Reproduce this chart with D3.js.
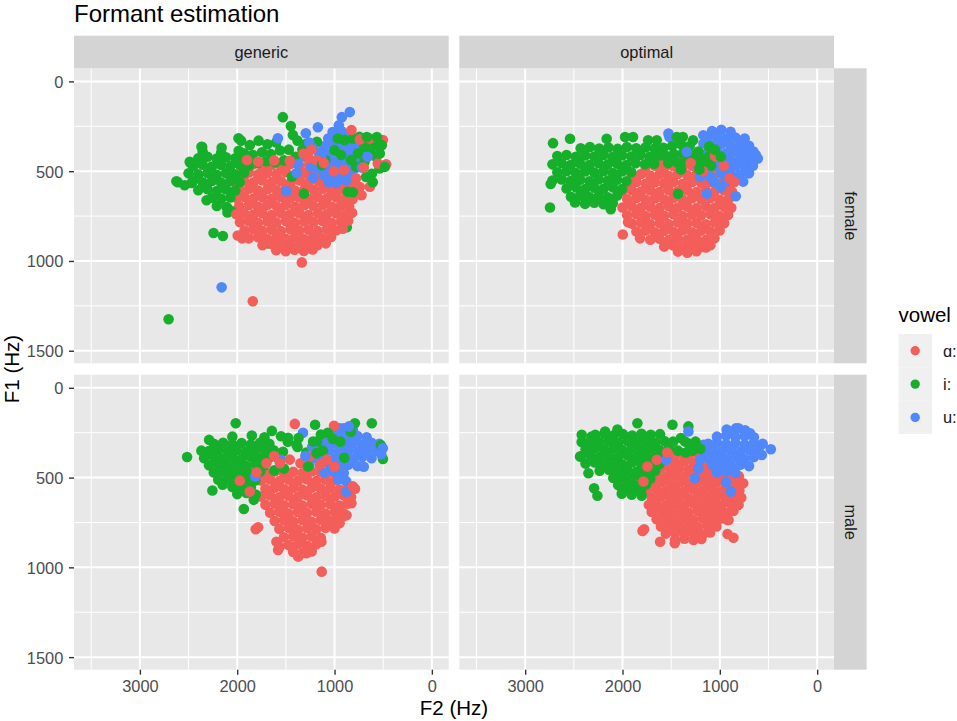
<!DOCTYPE html>
<html>
<head>
<meta charset="utf-8">
<script src="https://cdn.jsdelivr.net/npm/d3@7"></script>
<style>
  html, body { margin: 0; padding: 0; background: #fff; }
  svg { display: block; font-family: "Liberation Sans", Arial, sans-serif; }
</style>
</head>
<body>
<div id="chart"></div>
<script>
// F2 / F1 pairs (Hz), one array per panel and vowel
const genericFemaleA = [
  [1925,470],[1835,462],[1738,474],[1645,466],[1548,472],[1455,460],[1360,470],[1262,464],[1170,474],[1075,466],[978,472],[885,476],
  [1972,516],[1880,508],[1785,518],[1690,510],[1595,516],[1500,506],[1405,518],[1310,510],[1218,514],[1122,508],[1025,518],[930,512],[840,520],
  [2015,560],[1928,554],[1832,562],[1740,552],[1642,560],[1550,556],[1452,564],[1358,552],[1265,560],[1168,555],[1072,562],[980,554],[882,560],[800,566],
  [1975,604],[1878,598],[1787,608],[1690,600],[1597,606],[1500,598],[1407,608],[1310,600],[1215,604],[1120,598],[1027,608],[932,602],[840,606],
  [2005,650],[1925,644],[1833,652],[1738,646],[1645,654],[1552,644],[1455,650],[1362,646],[1265,654],[1172,644],[1075,650],[980,646],[888,652],[815,656],
  [1980,694],[1880,688],[1785,698],[1692,690],[1595,696],[1502,688],[1405,698],[1312,690],[1218,694],[1120,688],[1028,698],[935,692],[850,696],
  [2010,740],[1930,734],[1835,742],[1740,736],[1645,744],[1550,734],[1457,740],[1360,736],[1268,744],[1170,734],[1078,740],[982,736],[890,742],[820,732],
  [1972,784],[1882,778],[1788,788],[1690,780],[1598,786],[1500,778],[1408,788],[1312,780],[1215,784],[1122,778],[1030,788],[935,782],[860,776],
  [1995,858],[1950,874],[1925,830],[1835,824],[1740,832],[1647,826],[1552,834],[1455,824],[1362,830],[1268,826],[1172,834],[1078,824],[985,830],[915,820],
  [1880,874],[1785,868],[1692,878],[1598,870],[1503,876],[1408,868],[1315,878],[1220,870],[1125,874],[1035,866],
  [1740,912],[1645,906],[1550,916],[1455,908],[1362,916],[1268,906],[1175,912],[1090,902],
  [1600,940],[1502,946],[1410,938],[1315,944],[1225,936],
  [1336,1008],[1840,1225],
  [1320,402],[1265,426],[1180,440],[1460,442],[1620,440],[1785,448],[1900,438],
  [826,271],[740,323],[637,318],[503,327],[555,457],[470,461],[637,587],[723,634],[904,495],[1007,500],[740,588],[1237,379],[1110,455],[780,540],[700,480]
]
const genericFemaleI = [
  [2355,392],[2165,398],[1985,386],
  [2400,428],[2305,420],[2210,430],[2115,422],[2020,428],[1930,420],
  [2450,472],[2355,464],[2260,474],[2165,466],[2070,472],[1975,464],[1880,470],
  [2500,512],[2400,518],[2305,510],[2210,520],[2115,512],[2020,518],[1930,510],
  [2610,561],[2540,578],[2470,566],[2455,556],[2355,562],[2260,554],[2165,564],[2070,556],[1975,562],
  [2400,606],[2305,600],[2210,610],[2115,602],[2020,608],
  [2315,662],[2260,648],[2165,654],[2070,646],
  [2210,694],[2110,700],[2096,708],[2100,730],[2060,722],
  [2480,455],[2360,365],[2160,370],[1987,317],[2243,844],[2147,861],[1685,902],[1531,199],[1449,249],[1428,299],[874,812],[2705,1325],[2625,556],[2367,364],[2488,448],
  [1960,330],[1870,355],[1780,330],[1690,350],[1600,340],[1930,400],[1840,410],[1745,395],[1655,405],[1560,385],
  [1880,450],[1790,455],[1700,445],[1610,450],[1520,440],[1470,380],[1380,330],[1400,420],[1330,380],
  [1290,347],[1233,364],[1181,336],[1096,438],[1000,383],[966,318],[898,327],[812,318],[745,309],[692,364],[624,401],[590,355],
  [574,420],[539,485],[676,532],[692,448],[778,476],[864,615],[760,401],[830,438],[932,410],[1130,466],[1438,531],[1315,625],
  [668,310],[514,355],[483,476],[617,515],[607,561],[812,617],[535,401],[565,310]
]
const genericFemaleU = [
  [1020,282],[930,276],[840,286],
  [1065,318],[975,324],[880,316],[790,326],[700,320],
  [1110,362],[1020,356],[930,366],[840,358],[750,364],[660,356],
  [1160,398],[1065,404],[975,396],[880,406],[790,398],[700,404],
  [1200,442],[1110,436],[1020,446],[930,438],[840,444],[750,436],
  [1240,478],[1160,484],[1065,476],[975,486],[880,478],[790,484],
  [1110,522],[1020,516],[930,524],[840,518],[1060,560],[980,566],
  [843,171],[925,199],[956,244],[1171,255],[1295,289],[1582,317],[1222,373],[1135,422],[1310,420],[1380,460],
  [1495,612],[2160,1147],[1260,340],[720,480],[660,420],[1390,510],[1220,536],[880,550]
]

const optimalFemaleA = [
  [1620,432],[1525,426],[1430,434],[1335,428],[1240,436],[1145,428],[1050,434],
  [1762,476],[1667,470],[1572,480],[1477,472],[1382,478],[1287,470],[1192,480],[1097,472],[1002,478],
  [1905,522],[1810,516],[1715,524],[1620,518],[1525,526],[1430,516],[1335,522],[1240,518],[1145,526],[1050,516],[955,522],
  [1952,566],[1857,560],[1762,570],[1667,562],[1572,568],[1477,560],[1382,570],[1287,562],[1192,566],[1097,560],[1002,570],[907,564],
  [2000,612],[1905,606],[1810,614],[1715,608],[1620,616],[1525,606],[1430,612],[1335,608],[1240,616],[1145,606],[1050,612],[955,608],[875,614],
  [1952,656],[1857,650],[1762,660],[1667,652],[1572,658],[1477,650],[1382,660],[1287,652],[1192,656],[1097,650],[1002,660],[907,654],
  [2000,702],[1905,696],[1810,704],[1715,698],[1620,706],[1525,696],[1430,702],[1335,698],[1240,706],[1145,696],[1050,702],[955,698],[882,704],
  [1952,746],[1857,740],[1762,750],[1667,742],[1572,748],[1477,740],[1382,750],[1287,742],[1192,746],[1097,740],[1002,750],[915,744],
  [1905,792],[1810,786],[1715,794],[1620,788],[1525,796],[1430,786],[1335,792],[1240,788],[1145,796],[1050,786],[955,790],
  [1857,836],[1762,830],[1667,840],[1572,832],[1477,838],[1382,830],[1287,840],[1192,832],[1097,836],[1002,830],
  [1820,874],[1997,853],[1715,882],[1620,876],[1525,884],[1430,876],[1335,882],[1240,876],[1145,884],[1055,874],
  [1572,920],[1477,914],[1382,924],[1287,916],[1192,922],[1144,925],[1097,912],
  [1430,948],[1335,954],[1240,946],
  [1300,455],[1170,500],[1050,415],[960,470],[900,540],[850,560],[1943,784]
]
const optimalFemaleI = [
  [2430,372],[2335,366],[2240,374],[2145,368],[2050,376],[1955,366],[1860,372],[1765,368],[1670,374],
  [2670,416],[2575,410],[2480,420],[2385,412],[2290,418],[2195,410],[2100,420],[2005,412],[1910,418],[1815,410],[1720,420],[1625,412],[1530,418],
  [2720,462],[2625,456],[2530,464],[2435,458],[2340,466],[2245,456],[2150,462],[2055,458],[1960,466],[1865,456],[1770,462],[1675,458],
  [2670,506],[2575,500],[2480,510],[2385,502],[2290,508],[2195,500],[2100,510],[2005,502],[1910,506],
  [2720,552],[2625,546],[2530,554],[2435,548],[2340,556],[2245,546],[2150,552],[2055,548],[1960,556],
  [2575,596],[2480,590],[2385,600],[2290,592],[2195,598],[2100,590],[2005,600],
  [2530,642],[2435,636],[2340,644],[2245,638],[2150,646],[2055,636],
  [2385,682],[2290,676],[2195,684],[2100,678],
  [2714,344],[2539,319],[2738,571],[2745,702],[2488,674],[2375,655],[2121,712],[2163,319],[1974,310],[1892,310],
  [1737,328],[1648,328],[1442,310],[1380,310],[1275,328],[1110,362],[1429,626],
  [1580,370],[1490,360],[1400,350],[1310,360],[1220,390],[1560,415],[1470,405],[1380,400],[1290,410],[1200,430],[1115,420],
  [1530,455],[1440,450],[1350,445],[1260,452],[1170,460],[1090,470],[1400,490],[1210,490],[1050,380],[990,420]
]
const optimalFemaleU = [
  [1080,276],[985,270],[890,280],
  [1125,316],[1030,310],[935,320],[840,312],[745,318],
  [1080,356],[985,350],[890,360],[795,352],[700,358],
  [1125,396],[1030,390],[935,400],[840,392],[745,398],[655,390],
  [1080,436],[985,430],[890,440],[795,432],[700,438],[610,430],
  [1125,476],[1030,470],[935,480],[840,472],[745,478],[660,470],
  [985,516],[890,510],[795,520],[700,512],[935,556],[840,550],[760,558],
  [1528,290],[1518,309],[1323,392],[1169,346],[1134,625],[836,640],[1240,420],[1200,480],[1280,455],[1100,530],
  [1060,560],[990,590],[1340,392],[1203,531],[630,410],[1170,300]
]

const genericMaleA = [
  [1710,472],[1615,466],[1520,474],[1425,468],[1330,476],[1235,466],[1140,472],[1045,468],[950,474],
  [1755,516],[1662,510],[1567,520],[1472,512],[1377,518],[1282,510],[1187,520],[1092,512],[997,516],[902,510],
  [1710,562],[1615,556],[1520,564],[1425,558],[1330,566],[1235,556],[1140,562],[1045,558],[950,566],[860,556],[790,562],
  [1755,606],[1662,600],[1567,610],[1472,602],[1377,608],[1282,600],[1187,610],[1092,602],[997,606],[902,600],[830,610],
  [1710,652],[1615,646],[1520,654],[1425,648],[1330,656],[1235,646],[1140,652],[1045,648],[950,656],[870,646],
  [1662,696],[1567,690],[1472,700],[1377,692],[1282,698],[1187,690],[1092,700],[997,692],[912,698],
  [1615,742],[1520,736],[1425,744],[1330,738],[1235,746],[1140,736],[1045,742],[975,738],
  [1567,786],[1472,780],[1377,790],[1282,782],[1187,788],[1092,780],[1000,784],
  [1520,832],[1425,826],[1330,834],[1235,828],[1140,836],
  [1472,876],[1377,870],[1282,880],[1187,872],
  [1425,914],[1330,920],[1235,912],
  [1132,1024],[1810,788],[1785,777],[1597,857],[1563,885],[1580,903],[1374,940],[1289,921],[1135,857],[948,754],[914,717],
  [1408,201],[1005,212],[1974,517],[1871,578],[1800,470],[1560,420],[1460,400],[1350,420],[1250,380],[1150,430],
  [1700,420],[1080,400],[1000,440],[1620,380],[811,549],[826,643],[877,710]
]
const genericMaleI = [
  [2050,272],[1850,266],[1720,276],
  [2240,312],[2145,306],[2050,314],[1955,308],[1860,316],[1765,306],[1670,312],
  [2290,352],[2195,346],[2100,354],[2005,348],[1910,356],[1815,346],[1720,352],[1625,348],[1530,356],
  [2340,392],[2240,386],[2145,394],[2050,388],[1955,396],[1860,386],[1765,392],[1670,388],[1575,396],
  [2290,432],[2195,426],[2100,434],[2005,428],[1910,436],[1815,426],[1720,432],
  [2240,472],[2145,466],[2050,474],[1955,468],[1860,476],[1765,466],
  [2195,512],[2100,506],[2005,514],[1910,508],[1815,516],
  [2050,552],[1955,546],[1860,554],[2000,592],[1905,586],[1810,594],
  [2515,385],[2368,350],[2289,290],[2255,572],[1932,675],[2015,197],[1644,240],[1200,206],[791,197],[617,197],
  [524,320],[503,396],[833,245],[1016,285],[2150,540],[1830,624],[1380,330],[1290,360],[1180,300],[1120,350],
  [1480,300],[1550,270],[1620,460],[1520,450],[900,390],[940,300],[1070,250],[1370,280],[1140,260],
  [1477,279],[1391,317],[1220,299],[1185,364],[1271,438]
]
const genericMaleU = [
  [1000,232],[905,226],[810,236],
  [1050,272],[955,266],[860,274],[765,268],[670,276],
  [1100,312],[1000,306],[905,314],[810,308],[715,316],[620,306],[540,312],
  [1150,352],[1050,346],[955,354],[860,348],[765,356],[670,346],[575,352],
  [1200,392],[1100,386],[1000,394],[905,388],[810,396],[715,386],[620,392],
  [1150,432],[1050,426],[955,434],[860,428],[765,436],
  [1100,472],[1000,466],[905,474],
  [945,225],[852,215],[504,336],[877,578],[1324,250],[1552,401],[1815,494],[1260,430],[1230,330],[880,520],
  [960,510],[520,370],[700,440],[1300,380]
]

const optimalMaleA = [
  [1510,372],[1415,366],[1320,374],[1225,368],[1130,376],
  [1650,412],[1555,406],[1460,414],[1365,408],[1270,416],[1175,406],[1080,412],
  [1700,452],[1605,446],[1510,454],[1415,448],[1320,456],[1225,446],[1130,452],[1035,448],[940,456],
  [1750,492],[1650,486],[1555,494],[1460,488],[1365,496],[1270,486],[1175,492],[1080,488],[985,496],[890,486],[805,492],
  [1700,532],[1605,526],[1510,534],[1415,528],[1320,536],[1225,526],[1130,532],[1035,528],[940,536],[850,526],[760,532],
  [1750,572],[1650,566],[1555,574],[1460,568],[1365,576],[1270,566],[1175,572],[1080,568],[985,576],[890,566],[800,572],
  [1700,612],[1605,606],[1510,614],[1415,608],[1320,616],[1225,606],[1130,612],[1035,608],[940,616],[850,606],[780,612],
  [1730,652],[1650,646],[1555,654],[1460,648],[1365,656],[1270,646],[1175,652],[1080,648],[985,656],[890,646],[810,652],
  [1700,692],[1605,686],[1510,694],[1415,688],[1320,696],[1225,686],[1130,692],[1035,688],[940,696],[860,686],
  [1650,732],[1555,726],[1460,734],[1365,728],[1270,736],[1175,726],[1080,732],[985,728],[910,736],
  [1605,772],[1510,766],[1415,774],[1320,768],[1225,776],[1130,766],[1035,772],
  [1555,812],[1460,806],[1365,814],[1270,808],[1175,816],[1100,806],
  [1460,846],[1365,840],[1270,848],[1190,842],
  [1795,797],[1778,788],[1614,857],[1463,866],[921,814],[860,835],[809,652],[921,736],[1744,438],[1648,401],[1785,522],[1540,360]
]
const optimalMaleI = [
  [2280,262],[2185,256],[2090,264],[1995,258],[1900,266],[1805,256],[1710,262],[1615,258],
  [2420,302],[2330,296],[2235,304],[2140,298],[2045,306],[1950,296],[1855,302],[1760,298],[1665,306],[1570,296],
  [2380,342],[2285,336],[2190,344],[2095,338],[2000,346],[1905,336],[1810,342],[1715,338],[1620,346],[1525,336],
  [2430,382],[2330,376],[2235,384],[2140,378],[2045,386],[1950,376],[1855,382],[1760,378],[1665,386],[1570,376],
  [2380,422],[2285,416],[2190,424],[2095,418],[2000,426],[1905,416],[1810,422],[1715,418],[1620,426],
  [2235,462],[2140,456],[2045,464],[1950,458],[1855,466],[1760,456],[1665,462],
  [2095,502],[2000,496],[1905,504],[1810,498],[1715,506],
  [2045,542],[1950,536],[1855,544],[1760,538],[2000,576],[1905,570],[1810,578],
  [2419,262],[2316,271],[1847,197],[1487,206],[1323,215],[2179,243],[2052,232],[2436,383],[2350,476],[2292,559],
  [2258,601],[2008,590],[1906,596],[1803,601],[1357,299],[1480,300],[1400,280],[1320,310],[1250,300],[1430,350],
  [1350,360],[1280,350],[1200,340]
]
const optimalMaleU = [
  [930,232],[835,226],[740,236],
  [1030,272],[935,266],[840,274],[745,268],[650,276],
  [1120,312],[1030,306],[935,314],[840,308],[745,316],[650,306],[560,312],
  [1170,352],[1075,346],[980,354],[885,348],[790,356],[695,346],[600,352],
  [1120,392],[1030,386],[935,394],[840,388],[745,396],[650,386],
  [1075,432],[980,426],[885,434],[790,428],[700,436],
  [1030,472],[935,466],[840,474],
  [921,243],[808,225],[689,253],[476,342],[569,374],[1254,327],[1169,318],[1552,401],[1257,504],[935,526],
  [887,578],[1323,243],[1200,400],[1220,450]
]

const methods = ["generic", "optimal"]
const sexes = ["female", "male"]
const vowels = ["ɑ:", "i:", "u:"]
const xTicks = [3000, 2000, 1000, 0]
const xMinor = [3500, 2500, 1500, 500]
const yTicks = [0, 500, 1000, 1500]
const yMinor = [250, 750, 1250]

const panelData = {
  "generic|female": [genericFemaleA, genericFemaleI, genericFemaleU],
  "optimal|female": [optimalFemaleA, optimalFemaleI, optimalFemaleU],
  "generic|male": [genericMaleA, genericMaleI, genericMaleU],
  "optimal|male": [optimalMaleA, optimalMaleI, optimalMaleU]
}

const colors = ["#F35E5A", "#15AF2B", "#5087FA"]
const font = "'Liberation Sans', Arial, sans-serif"

const width = 957
const height = 721
const colX = [74, 459.3]
const rowY = [68.3, 374.7]
const pw = 374.7
const ph = 295
const stripSize = 32.6
const pointR = 5.3

const x = d3.scaleLinear().domain([3677, -173]).range([0, pw])
const y = d3.scaleLinear().domain([-73, 1570]).range([0, ph])
const color = d3.scaleOrdinal().domain(vowels).range(colors)

const svg = d3.select("#chart").append("svg")
  .attr("width", width)
  .attr("height", height)
  .attr("viewBox", `0 0 ${width} ${height}`)

svg.append("rect").attr("width", width).attr("height", height).attr("fill", "#fff")

svg.append("text")
  .attr("x", 74).attr("y", 22)
  .attr("font-size", 24).attr("fill", "#000")
  .text("Formant estimation")

// mix vowels in drawing order, so overlaps look like the original data order
function mixed(groups) {
  const all = []
  groups.forEach((pts, vi) => {
    pts.forEach((p, i) => all.push({ vowel: vowels[vi], f2: p[0], f1: p[1], k: (i + 0.5) / pts.length + vi * 1e-4 }))
  })
  return all.sort((a, b) => a.k - b.k)
}

sexes.forEach((sex, ri) => {
  methods.forEach((method, ci) => {
    const g = svg.append("g").attr("transform", `translate(${colX[ci]},${rowY[ri]})`)
    g.append("rect").attr("width", pw).attr("height", ph).attr("fill", "#E8E8E8")

    g.selectAll(".xminor").data(xMinor).join("line")
      .attr("x1", d => x(d)).attr("x2", d => x(d)).attr("y1", 0).attr("y2", ph)
      .attr("stroke", "#fff").attr("stroke-width", 1)
    g.selectAll(".yminor").data(yMinor).join("line")
      .attr("y1", d => y(d)).attr("y2", d => y(d)).attr("x1", 0).attr("x2", pw)
      .attr("stroke", "#fff").attr("stroke-width", 1)
    g.selectAll(".xmajor").data(xTicks).join("line")
      .attr("x1", d => x(d)).attr("x2", d => x(d)).attr("y1", 0).attr("y2", ph)
      .attr("stroke", "#fff").attr("stroke-width", 2)
    g.selectAll(".ymajor").data(yTicks).join("line")
      .attr("y1", d => y(d)).attr("y2", d => y(d)).attr("x1", 0).attr("x2", pw)
      .attr("stroke", "#fff").attr("stroke-width", 2)

    g.append("g").selectAll("circle")
      .data(mixed(panelData[`${method}|${sex}`]))
      .join("circle")
      .attr("cx", d => x(d.f2))
      .attr("cy", d => y(d.f1))
      .attr("r", pointR)
      .attr("fill", d => color(d.vowel))
  })
})

// strips
methods.forEach((method, ci) => {
  svg.append("rect")
    .attr("x", colX[ci]).attr("y", rowY[0] - stripSize)
    .attr("width", pw).attr("height", stripSize)
    .attr("fill", "#D4D4D4")
  svg.append("text")
    .attr("x", colX[ci] + pw / 2).attr("y", rowY[0] - stripSize / 2 + 5.8)
    .attr("text-anchor", "middle").attr("font-size", 16.4).attr("fill", "#1A1A1A")
    .text(method)
})
sexes.forEach((sex, ri) => {
  const sx = colX[1] + pw
  svg.append("rect")
    .attr("x", sx).attr("y", rowY[ri])
    .attr("width", stripSize).attr("height", ph)
    .attr("fill", "#D4D4D4")
  svg.append("text")
    .attr("transform", `translate(${sx + stripSize / 2 - 5.8},${rowY[ri] + ph / 2}) rotate(90)`)
    .attr("text-anchor", "middle").attr("font-size", 16.4).attr("fill", "#1A1A1A")
    .text(sex)
})

// axes
function styleAxis(sel) {
  sel.attr("font-family", font).attr("font-size", 16.4)
  sel.select(".domain").remove()
  sel.selectAll(".tick line").attr("stroke", "#333").attr("stroke-width", 1.4)
  sel.selectAll(".tick text").attr("fill", "#4D4D4D")
}
rowY.forEach(ry => {
  svg.append("g")
    .attr("transform", `translate(${colX[0]},${ry})`)
    .call(d3.axisLeft(y).tickValues(yTicks).tickFormat(d3.format("d")).tickSize(5).tickPadding(5.7))
    .call(styleAxis)
    .call(a => a.selectAll(".tick text").attr("dy", "0.36em"))
})
colX.forEach(cx => {
  svg.append("g")
    .attr("transform", `translate(${cx},${rowY[1] + ph})`)
    .call(d3.axisBottom(x).tickValues(xTicks).tickFormat(d3.format("d")).tickSize(5).tickPadding(5.7))
    .call(styleAxis)
})

svg.append("text")
  .attr("x", (colX[0] + colX[1] + pw) / 2).attr("y", 715)
  .attr("text-anchor", "middle").attr("font-size", 20.5).attr("fill", "#000")
  .text("F2 (Hz)")
svg.append("text")
  .attr("transform", `translate(19,${(rowY[0] + rowY[1] + ph) / 2}) rotate(-90)`)
  .attr("text-anchor", "middle").attr("font-size", 20.5).attr("fill", "#000")
  .text("F1 (Hz)")

// legend
const legend = svg.append("g").attr("transform", "translate(898.5,334)")
legend.append("text")
  .attr("x", 0).attr("y", -12.5)
  .attr("font-size", 20.5).attr("fill", "#000")
  .text("vowel")
vowels.forEach((v, i) => {
  const ky = i * 33.3
  legend.append("rect")
    .attr("x", 0).attr("y", ky).attr("width", 33.5).attr("height", 33.3)
    .attr("fill", "#F0F0F0")
  legend.append("circle")
    .attr("cx", 16.7).attr("cy", ky + 16.8).attr("r", 4.7)
    .attr("fill", color(v))
  legend.append("text")
    .attr("x", 44.5).attr("y", ky + 16.8 + 5.8)
    .attr("font-size", 16.4).attr("fill", "#1A1A1A")
    .text(v)
})
</script>
</body>
</html>
